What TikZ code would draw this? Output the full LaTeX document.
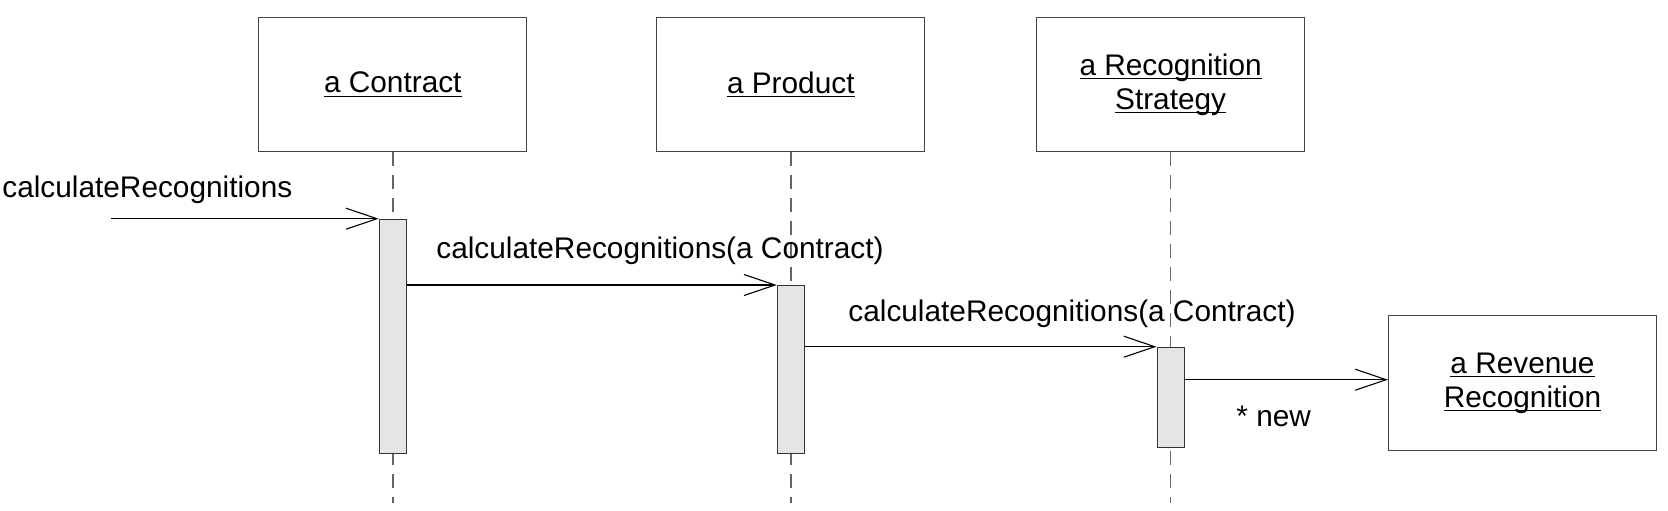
\documentclass[tikz,border=0pt]{standalone}
\usepackage{fontspec}
\setmainfont{Liberation Sans}
\usetikzlibrary{arrows.meta}
\newcommand\fsz{\fontsize{14.9pt}{17pt}\selectfont}
\newcommand\myul[1]{\setbox0\hbox{#1}\rlap{\rule[-2.1pt]{\wd0}{0.75pt}}\box0}
\definecolor{boxgray}{HTML}{444444}
\definecolor{lifegray}{HTML}{666666}
\definecolor{actline}{HTML}{333333}
\definecolor{actfill}{HTML}{E5E5E5}
\begin{document}
\begin{tikzpicture}[x=0.5pt,y=-0.5pt,
  obj/.style={draw=boxgray, line width=0.6pt, minimum width=134pt, minimum height=67.2pt, inner sep=0pt, align=center, font=\fsz},
  act/.style={draw=actline, fill=actfill, line width=0.6pt, minimum width=13.5pt, inner sep=0pt, anchor=north},
  life/.style={draw=lifegray, line width=0.7pt, dash pattern=on 7pt off 4.5pt},
  msg/.style={draw=black, line width=0.55pt, -{Straight Barb[length=15.5pt,width=10.5pt]}},
  lbl/.style={font=\fsz, inner sep=0pt, anchor=base west}]
\useasboundingbox (0,0) rectangle (1668,510);
\coordinate (bot) at (0,503);
% objects
\node[obj] (contract) at (392.8,84.5) {\myul{a Contract}};
\node[obj] (product) at (790.8,84.5) {\myul{a Product}};
\node[obj] (strategy) at (1170.6,84.5) {\myul{a Recognition}\\\myul{Strategy}};
\node[obj] (rev) at (1522.5,383) {\myul{a Revenue}\\\myul{Recognition}};
% lifelines
\draw[life] (contract.south) -- (contract.south |- bot);
\draw[life] (product.south) -- (product.south |- bot);
\draw[life] (strategy.south) -- (strategy.south |- bot);
% activations
\node[act, minimum height=117pt] (act1) at (392.8,218.7) {};
\node[act, minimum height=83.85pt] (act2) at (790.8,285) {};
\node[act, minimum height=50pt] (act3) at (1170.6,346.7) {};
% messages
\coordinate (caller) at (111,218.7);
\draw[msg] (caller) -- (act1.north west);
\draw[msg] (act2.north west -| act1.east) -- (act2.north west);
\draw[msg] (act3.north west -| act2.east) -- (act3.north west);
\coordinate (m4s) at ([yshift=-16.5pt]act3.north east);
\draw[msg] (m4s) -- (m4s -| rev.west);
% labels
\node[lbl] (l1) at (2,197.3) {calculateRecognitions};
\node[lbl] (l2) at (436,258.5) {calculateRecognitions(a Contract)};
\node[lbl] (l3) at (848,321.7) {calculateRecognitions(a Contract)};
\node[lbl] (l4) at (1236,426.7) {* new};
\end{tikzpicture}
\end{document}
